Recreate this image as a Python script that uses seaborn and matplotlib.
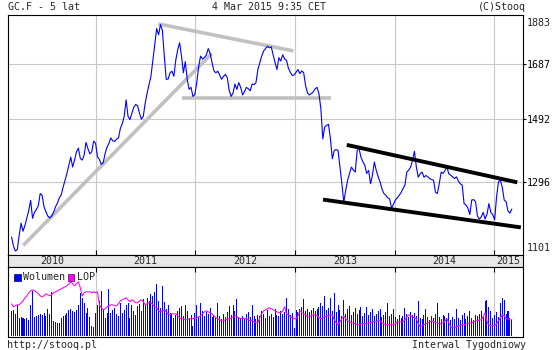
import matplotlib
matplotlib.use("Agg")
import matplotlib.pyplot as plt
import numpy as np
import pandas as pd
import seaborn as sns
from matplotlib.patches import Rectangle
from matplotlib.ticker import NullLocator

# ---------------- data (weekly, GC.F) ----------------
start_date = "2010-02-26"

price_2010 = [1145, 1122, 1110, 1113, 1150, 1181, 1160, 1175, 1195, 1215,
              1243, 1194, 1210, 1218, 1228, 1262, 1257, 1225, 1212, 1200,
              1195, 1200, 1210, 1225, 1235, 1250, 1258, 1280, 1300, 1320,
              1345, 1369, 1339, 1360, 1385, 1397, 1365, 1360, 1375, 1415,
              1395, 1379, 1385, 1419, 1412]
price_2011 = [1370, 1362, 1347, 1352, 1380, 1400, 1412, 1429, 1420, 1418,
              1425, 1429, 1460, 1475, 1500, 1556, 1500, 1489, 1510, 1530,
              1540, 1536, 1510, 1490, 1500, 1545, 1580, 1610, 1640, 1700,
              1760, 1825, 1800, 1841, 1817, 1716, 1629, 1630, 1653, 1659,
              1640, 1700, 1740, 1768, 1716, 1653, 1695, 1629, 1593, 1600,
              1568, 1575]
price_2012 = [1617, 1677, 1716, 1705, 1710, 1720, 1745, 1727, 1691, 1660,
              1653, 1659, 1645, 1629, 1640, 1647, 1635, 1588, 1568, 1580,
              1612, 1593, 1617, 1600, 1573, 1585, 1600, 1595, 1588, 1612,
              1610, 1617, 1665, 1690, 1716, 1735, 1745, 1754, 1748, 1752,
              1720, 1691, 1665, 1710, 1697, 1721, 1705, 1700, 1670, 1655,
              1643, 1645]
price_2013 = [1655, 1665, 1650, 1660, 1653, 1606, 1580, 1573, 1578, 1584,
              1595, 1600, 1577, 1525, 1426, 1464, 1470, 1473, 1426, 1364,
              1390, 1392, 1390, 1339, 1290, 1238, 1271, 1300, 1320, 1339,
              1330, 1324, 1390, 1396, 1368, 1355, 1344, 1320, 1329, 1290,
              1315, 1354, 1329, 1310, 1295, 1275, 1262, 1257, 1250, 1247,
              1222, 1232]
price_2014 = [1244, 1250, 1257, 1265, 1276, 1286, 1324, 1330, 1339, 1359,
              1387, 1339, 1309, 1319, 1324, 1309, 1314, 1310, 1305, 1302,
              1300, 1266, 1262, 1290, 1324, 1320, 1329, 1339, 1319, 1315,
              1310, 1305, 1310, 1298, 1290, 1286, 1234, 1230, 1222, 1204,
              1244, 1245, 1239, 1200, 1192, 1198, 1210, 1192, 1205, 1234,
              1210, 1204]
price_2015 = [1190, 1252, 1295, 1300, 1280, 1244, 1239, 1214, 1208, 1219]

vol_2010 = [25, 26, 22, 31, 18, 19, 18, 17, 18, 16,
            31, 45, 19, 20, 21, 22, 21, 23, 20, 27, 22,
            44, 15, 14, 13, 13, 18, 20, 21, 23, 26, 27, 25, 24,
            26, 31, 43, 38, 33, 23, 28, 19, 10, 9, 23]
vol_2011 = [31, 35, 45, 26, 18, 23, 47,
            23, 26, 28, 22, 20, 33, 23, 26, 31,
            33, 18, 31, 25, 21, 30, 32, 25, 37, 31,
            38, 35, 42, 40, 44, 52, 35, 28, 50, 34,
            27, 31, 23, 22, 18, 21, 25, 28, 30, 20,
            31, 25, 18, 21, 10, 23]
vol_2012 = [31, 19, 33, 25,
            20, 24, 22, 28, 19, 21, 18, 33, 20, 17, 22, 19, 24, 30, 21, 31,
            25, 37, 19, 18, 20, 17, 22, 24, 19, 31, 20, 17, 21, 20, 25, 22,
            18, 26, 20, 22, 19, 27, 21, 20, 25, 22, 24, 38, 27, 21, 23, 8]
vol_2013 = [26, 24, 27, 29, 37, 25, 27, 24, 26, 28, 25, 27, 29, 33, 30, 40,
            26, 28, 38, 25, 43, 24, 31, 26, 20, 36, 22, 27, 30, 21, 24, 28,
            22, 26, 29, 20, 23, 29, 21, 24, 27, 20, 22, 25, 27, 19, 21, 24,
            33, 20, 22, 27]
vol_2014 = [19, 17, 21, 18, 20, 28, 22, 19, 24, 21,
            23, 20, 35, 18, 17, 21, 27, 19, 16, 20,
            18, 22, 33, 19, 17, 21, 20, 18, 23, 16,
            19, 17, 27, 18, 16, 21, 23, 17, 20, 25,
            18, 16, 21, 20, 22, 25, 19, 35, 36, 29,
            25, 18]
vol_2015 = [21, 24, 19, 33, 38, 36, 22, 25, 18, 16]

lop_2010 = [32, 29, 30, 31, 31, 33, 35, 38, 40, 43,
            45, 46, 45, 44, 42, 40, 39, 40, 42, 41,
            40, 41, 43, 44, 45, 46, 47, 48, 49, 50,
            52, 54, 52, 50, 52, 54, 48, 40, 43, 44,
            44, 44, 43, 44, 43]
lop_2011 = [44, 31, 28, 26, 27, 29, 30, 31, 31, 30,
            30, 32, 35, 36, 37, 38, 36, 34, 36, 35,
            33, 33, 35, 36, 34, 31, 32, 33, 33, 31,
            29, 28, 25, 24, 25, 26, 24, 22, 21, 22,
            22, 22, 20, 18, 17, 17, 16, 16, 17, 17,
            17, 18]
lop_2012 = [18, 19, 20, 22, 24, 25, 24, 23, 22, 20,
            18, 17, 16, 15, 15, 16, 17, 17, 18, 19,
            20, 19, 18, 17, 18, 17, 17, 16, 15, 15,
            14, 13, 13, 18, 22, 25, 26, 27, 28, 27,
            26, 25, 24, 23, 23, 25, 29, 22, 21, 19,
            18, 17]
lop_2013 = [17, 20, 25, 23, 22, 21, 19, 19, 20, 21,
            21, 20, 18, 17, 18, 19, 20, 20, 21, 21,
            16, 13, 11, 14, 17, 20, 17, 15, 14, 13,
            13, 12, 11, 11, 12, 12, 12, 12, 13, 13,
            14, 14, 14, 15, 15, 13, 12, 11, 11, 11,
            11, 11]
lop_2014 = [12, 14, 14, 14, 14, 16, 19, 21, 20, 19,
            18, 17, 12, 9, 10, 11, 12, 13, 14, 15,
            14, 13, 13, 12, 12, 13, 15, 17, 13, 9,
            8, 8, 9, 10, 10, 11, 11, 12, 12, 13,
            13, 14, 15, 15, 16, 16, 19, 23, 14, 11,
            10, 10]
lop_2015 = [10, 12, 15, 18, 21, 20, 17, 17, 16, 16]

price = price_2010 + price_2011 + price_2012 + price_2013 + price_2014 + price_2015
volume = vol_2010 + vol_2011 + vol_2012 + vol_2013 + vol_2014 + vol_2015
lop = lop_2010 + lop_2011 + lop_2012 + lop_2013 + lop_2014 + lop_2015

y_tick_values = [1101, 1296, 1492, 1687, 1883]
year_labels = ["2010", "2011", "2012", "2013", "2014", "2015"]
year_starts = ["2011-01-01", "2012-01-01", "2013-01-01", "2014-01-01", "2015-01-01"]
x_range = ["2010-02-13", "2015-04-16"]

# trend lines drawn on chart: (date0, price0, date1, price1)
gray_lines = [("2010-04-10", 1124, "2012-03-01", 1726),
              ("2011-08-18", 1844, "2012-12-25", 1736),
              ("2011-11-13", 1564, "2013-05-12", 1564)]
black_lines = [("2013-07-09", 1407, "2015-03-26", 1294),
               ("2013-04-13", 1245, "2015-04-08", 1170)]

title_left = "GC.F - 5 lat"
title_mid = "4 Mar 2015 9:35 CET"
title_right = "(C)Stooq"
footer_left = "http://stooq.pl"
footer_right = "Interwal Tygodniowy"

n = min(len(price), len(volume), len(lop))
dates = pd.date_range(start_date, periods=n, freq="7D")
df = pd.DataFrame({"date": dates, "price": price[:n], "volume": volume[:n], "lop": lop[:n]})

# ---------------- style ----------------
sns.set_style("white")
plt.rcParams["font.family"] = ["DejaVu Sans Mono", "DejaVu Sans"]
FS = 7.2
GRID = "#c8c8c8"
W, H = 560, 350

fig = plt.figure(figsize=(W / 100, H / 100), dpi=100)
fig.patch.set_facecolor("white")

def fx(px):
    return px / W

def fy(py):
    return 1 - py / H

ax = fig.add_axes([fx(8), fy(255), fx(515), 240 / H])
band = fig.add_axes([fx(8), fy(266.5), fx(515), 11.5 / H])
axv = fig.add_axes([fx(8), fy(337), fx(515), 70.5 / H])

xl = [pd.Timestamp(v) for v in x_range]
ys = [pd.Timestamp(v) for v in year_starts]

# ---------- main price panel ----------
ax.set_yscale("log")
for v in y_tick_values[1:-1]:
    ax.axhline(v, color=GRID, lw=0.8, zorder=0)
for d in ys:
    ax.axvline(d, color=GRID, lw=0.8, zorder=0)

for d0, p0, d1, p1 in gray_lines:
    ax.plot([pd.Timestamp(d0), pd.Timestamp(d1)], [p0, p1], color="#c0c0c0",
            lw=2.6, solid_capstyle="butt", zorder=2)
sns.lineplot(data=df, x="date", y="price", ax=ax, color="#0000ff", lw=0.8,
             zorder=3, estimator=None)
for d0, p0, d1, p1 in black_lines:
    ax.plot([pd.Timestamp(d0), pd.Timestamp(d1)], [p0, p1], color="black",
            lw=2.8, solid_capstyle="butt", zorder=4)

ax.set_xlim(xl)
ax.set_ylim(1100, 1881)
ax.set_xlabel("")
ax.set_ylabel("")
ax.yaxis.tick_right()
ax.yaxis.set_minor_locator(NullLocator())
ax.set_yticks(y_tick_values[1:-1])
ax.set_yticklabels([str(v) for v in y_tick_values[1:-1]])
ax.tick_params(axis="y", which="both", direction="out", length=2, width=0.8,
               pad=1, labelsize=FS, colors="black", left=False, right=True)
ax.set_xticks(ys)
ax.tick_params(axis="x", direction="in", length=3.5, width=0.8, color="black",
               bottom=True, top=False, labelbottom=False)
ax.text(1.0082, (255 - 22.7) / 240, str(y_tick_values[-1]), transform=ax.transAxes,
        ha="left", va="center", fontsize=FS)
ax.text(1.0082, (255 - 247.7) / 240, str(y_tick_values[0]), transform=ax.transAxes,
        ha="left", va="center", fontsize=FS)
for s in ax.spines.values():
    s.set_color("black")
    s.set_linewidth(0.8)

# ---------- date band ----------
band.set_facecolor("#e8e8e8")
band.set_xlim(xl)
band.set_ylim(0, 1)
bounds = [xl[0]] + ys + [xl[1]]
for lab, a, b in zip(year_labels, bounds[:-1], bounds[1:]):
    band.text(a + (b - a) / 2, 0.45, lab, ha="center", va="center", fontsize=FS)
band.set_xticks([])
band.set_yticks([])
for s in band.spines.values():
    s.set_color("black")
    s.set_linewidth(0.8)

# ---------- volume / LOP panel ----------
for d in ys:
    axv.axvline(d, color=GRID, lw=0.8, zorder=0)
bars = axv.bar(df["date"], df["volume"], width=3.7, color="#0000ff", linewidth=0, zorder=2)
for b in bars:
    b.set_antialiased(False)
sns.lineplot(data=df, x="date", y="lop", ax=axv, color="#ff00ff", lw=0.75,
             zorder=3, estimator=None)
axv.set_xlim(xl)
axv.set_ylim(-1.2, 69.3)
axv.set_xlabel("")
axv.set_ylabel("")
axv.set_yticks([])
axv.set_xticks(ys)
axv.tick_params(axis="x", direction="in", length=3.5, width=0.8, color="black",
                top=True, bottom=False, labelbottom=False, labeltop=False)
for s in axv.spines.values():
    s.set_color("black")
    s.set_linewidth(0.8)

# legend
fig.patches.append(Rectangle((fx(14), fy(280.5)), 6.5 / W, 7 / H, transform=fig.transFigure,
                             facecolor="#0000ff", edgecolor="#000060", lw=0.5))
fig.text(fx(23), fy(277), "Wolumen", ha="left", va="center", fontsize=FS)
fig.patches.append(Rectangle((fx(67.5), fy(280.5)), 6.5 / W, 7 / H, transform=fig.transFigure,
                             facecolor="#ff00ff", edgecolor="#600060", lw=0.5))
fig.text(fx(77), fy(277), "LOP", ha="left", va="center", fontsize=FS)

# header / footer
fig.text(fx(7.5), fy(7), title_left, ha="left", va="center", fontsize=FS)
fig.text(fx(269), fy(7), title_mid, ha="center", va="center", fontsize=FS)
fig.text(fx(526), fy(7), title_right, ha="right", va="center", fontsize=FS)
fig.text(fx(7.5), fy(344.5), footer_left, ha="left", va="center", fontsize=FS)
fig.text(fx(526), fy(344.5), footer_right, ha="right", va="center", fontsize=FS)

fig.savefig("out.png", dpi=100, facecolor="white")
